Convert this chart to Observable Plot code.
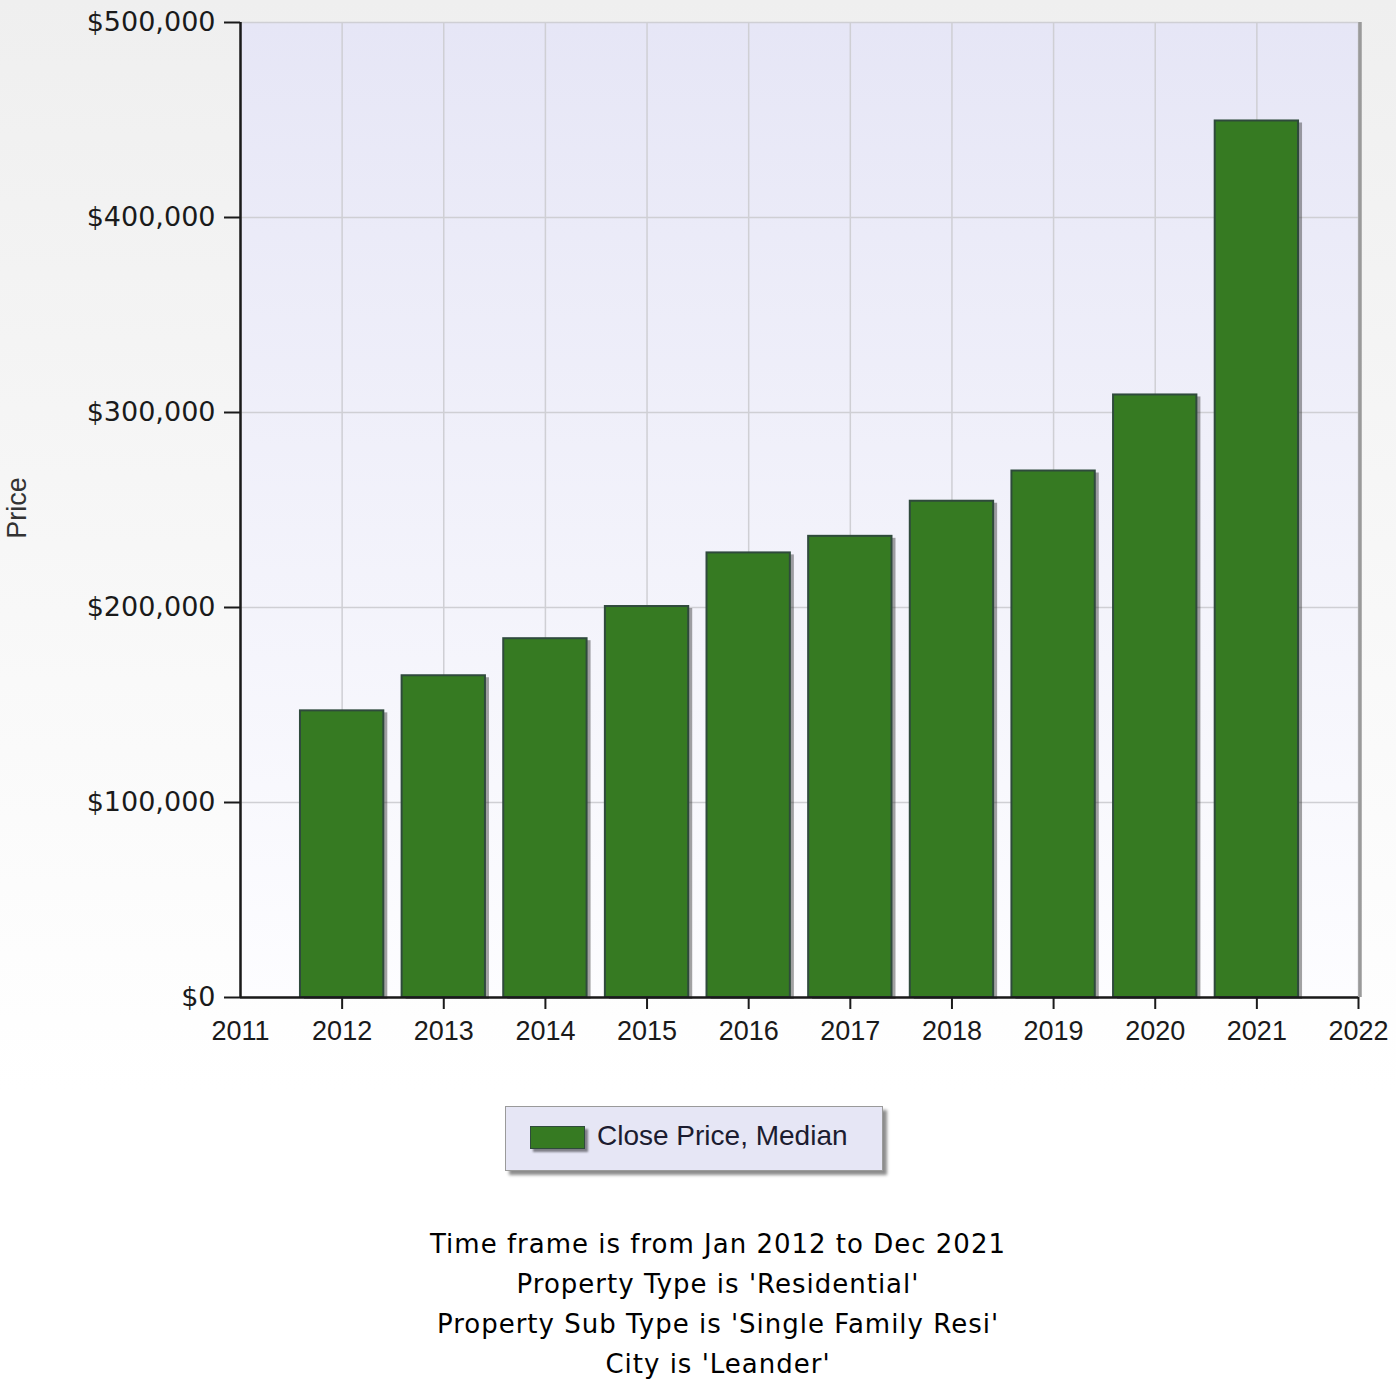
<!DOCTYPE html>
<html>
<head>
<meta charset="utf-8">
<script src="https://cdn.jsdelivr.net/npm/d3@7"></script>
<script src="https://cdn.jsdelivr.net/npm/@observablehq/plot@0.6"></script>
<style>
  html, body { margin: 0; padding: 0; }
  body {
    width: 1396px;
    min-height: 1384px;
    background: linear-gradient(#efefef 0px, #ffffff 1090px, #ffffff 1384px);
    font-family: "Liberation Sans", Arial, sans-serif;
  }
  #chart { position: relative; width: 1396px; height: 1065px; }
  #ylabel {
    position: absolute; left: 17px; top: 508px;
    transform: translate(-50%, -50%) rotate(-90deg);
    font-family: "Liberation Sans", Arial, sans-serif;
    font-size: 27px; color: #333;
  }
  #legend {
    position: relative;
    margin: 41px 0 0 505px;
    width: 376px; height: 63px;
    background: #e6e6f5;
    border: 1px solid #9a9a9a;
    box-shadow: 4px 4px 3px rgba(0,0,0,0.45);
    box-sizing: content-box;
  }
  #legend .sw {
    position: absolute; left: 24px; top: 19px;
    width: 53px; height: 21px;
    background: #367a22;
    border: 1.5px solid #2f4a3c;
    box-shadow: 3px 3px 2px rgba(0,0,0,0.45);
  }
  #legend .lt {
    position: absolute; left: 91px; top: 13px;
    font-family: "Liberation Sans", Arial, sans-serif;
    font-size: 28px; color: #1c1c30; letter-spacing: 0px;
  }
  #caption {
    margin-top: 53px;
    text-align: center;
    padding-left: 40px;
    font-family: "DejaVu Sans", Verdana, sans-serif;
    font-size: 26px; line-height: 40px; color: #000; letter-spacing: 1px;
  }
</style>
</head>
<body>
<div id="chart"><div id="ylabel">Price</div></div>
<div id="legend"><div class="sw"></div><div class="lt">Close Price, Median</div></div>
<div id="caption">
  <div>Time frame is from Jan 2012 to Dec 2021</div>
  <div>Property Type is 'Residential'</div>
  <div>Property Sub Type is 'Single Family Resi'</div>
  <div>City is 'Leander'</div>
</div>
<script>
const years = [2012, 2013, 2014, 2015, 2016, 2017, 2018, 2019, 2020, 2021];
const medianPrice = [147000, 165000, 184000, 200500, 228000, 236500, 254500, 270000, 309000, 449500];
const xTicks = [2011, 2012, 2013, 2014, 2015, 2016, 2017, 2018, 2019, 2020, 2021, 2022];
const yTicks = [0, 100000, 200000, 300000, 400000, 500000];
const seriesName = "Close Price, Median";

const data = years.map((y, i) => ({year: y, price: medianPrice[i]}));
const half = 0.41;

const chart = Plot.plot({
  width: 1396,
  height: 1065,
  marginLeft: 240,
  marginRight: 38,
  marginTop: 22,
  marginBottom: 68,
  style: {background: "transparent", fontFamily: "Liberation Sans, Arial, sans-serif", overflow: "visible"},
  x: {domain: [2011, 2022], axis: null},
  y: {domain: [0, 500000], axis: null},
  marks: [
    Plot.frame({fill: "url(#plotbg)", stroke: null}),
    Plot.gridX(xTicks, {stroke: "#cfcfd4", strokeOpacity: 1, strokeWidth: 1.5}),
    Plot.gridY(yTicks, {stroke: "#cfcfd4", strokeOpacity: 1, strokeWidth: 1.5}),
    Plot.ruleX([2022], {stroke: "#9a9a9a", strokeWidth: 3.5, dx: 1.5}),
    // bar shadows
    Plot.rect(data, {x1: d => d.year - half, x2: d => d.year + half, y1: 0, y2: "price", dx: 4, dy: 2, fill: "#333", fillOpacity: 0.45}),
    Plot.rect(data, {x1: d => d.year - half, x2: d => d.year + half, y1: 0, y2: "price", fill: "#367a22", stroke: "#2f4a3c", strokeWidth: 2}),
    Plot.ruleX([2011], {stroke: "#1a1a1a", strokeWidth: 2.5}),
    Plot.ruleY([0], {stroke: "#1a1a1a", strokeWidth: 2.5}),
    Plot.axisY({ticks: yTicks, label: null, tickSize: 16, tickPadding: 9, tickFormat: d3.format("$,"), fontSize: 27, stroke: "#1a1a1a", strokeWidth: 2, fill: "#1a1a1a", letterSpacing: "-0.5px", fontFamily: "DejaVu Sans, Verdana, sans-serif"}),
    Plot.axisX({ticks: xTicks.filter(d => d > 2011), label: null, tickSize: 12, tickFormat: () => "", stroke: "#1a1a1a", strokeWidth: 2}),
    Plot.axisX({ticks: xTicks, label: null, tickSize: 0, tickPadding: 23, tickFormat: d3.format("d"), fontSize: 27, fill: "#1a1a1a", letterSpacing: "-0.8px"})
  ]
});

const svg = d3.select(chart);
const defs = svg.insert("defs", ":first-child");
const g = defs.append("linearGradient").attr("id", "plotbg").attr("x1", 0).attr("y1", 0).attr("x2", 0).attr("y2", 1);
g.append("stop").attr("offset", "0%").attr("stop-color", "#e6e6f6");
g.append("stop").attr("offset", "100%").attr("stop-color", "#fdfdff");

document.getElementById("chart").appendChild(chart);
</script>
</body>
</html>
